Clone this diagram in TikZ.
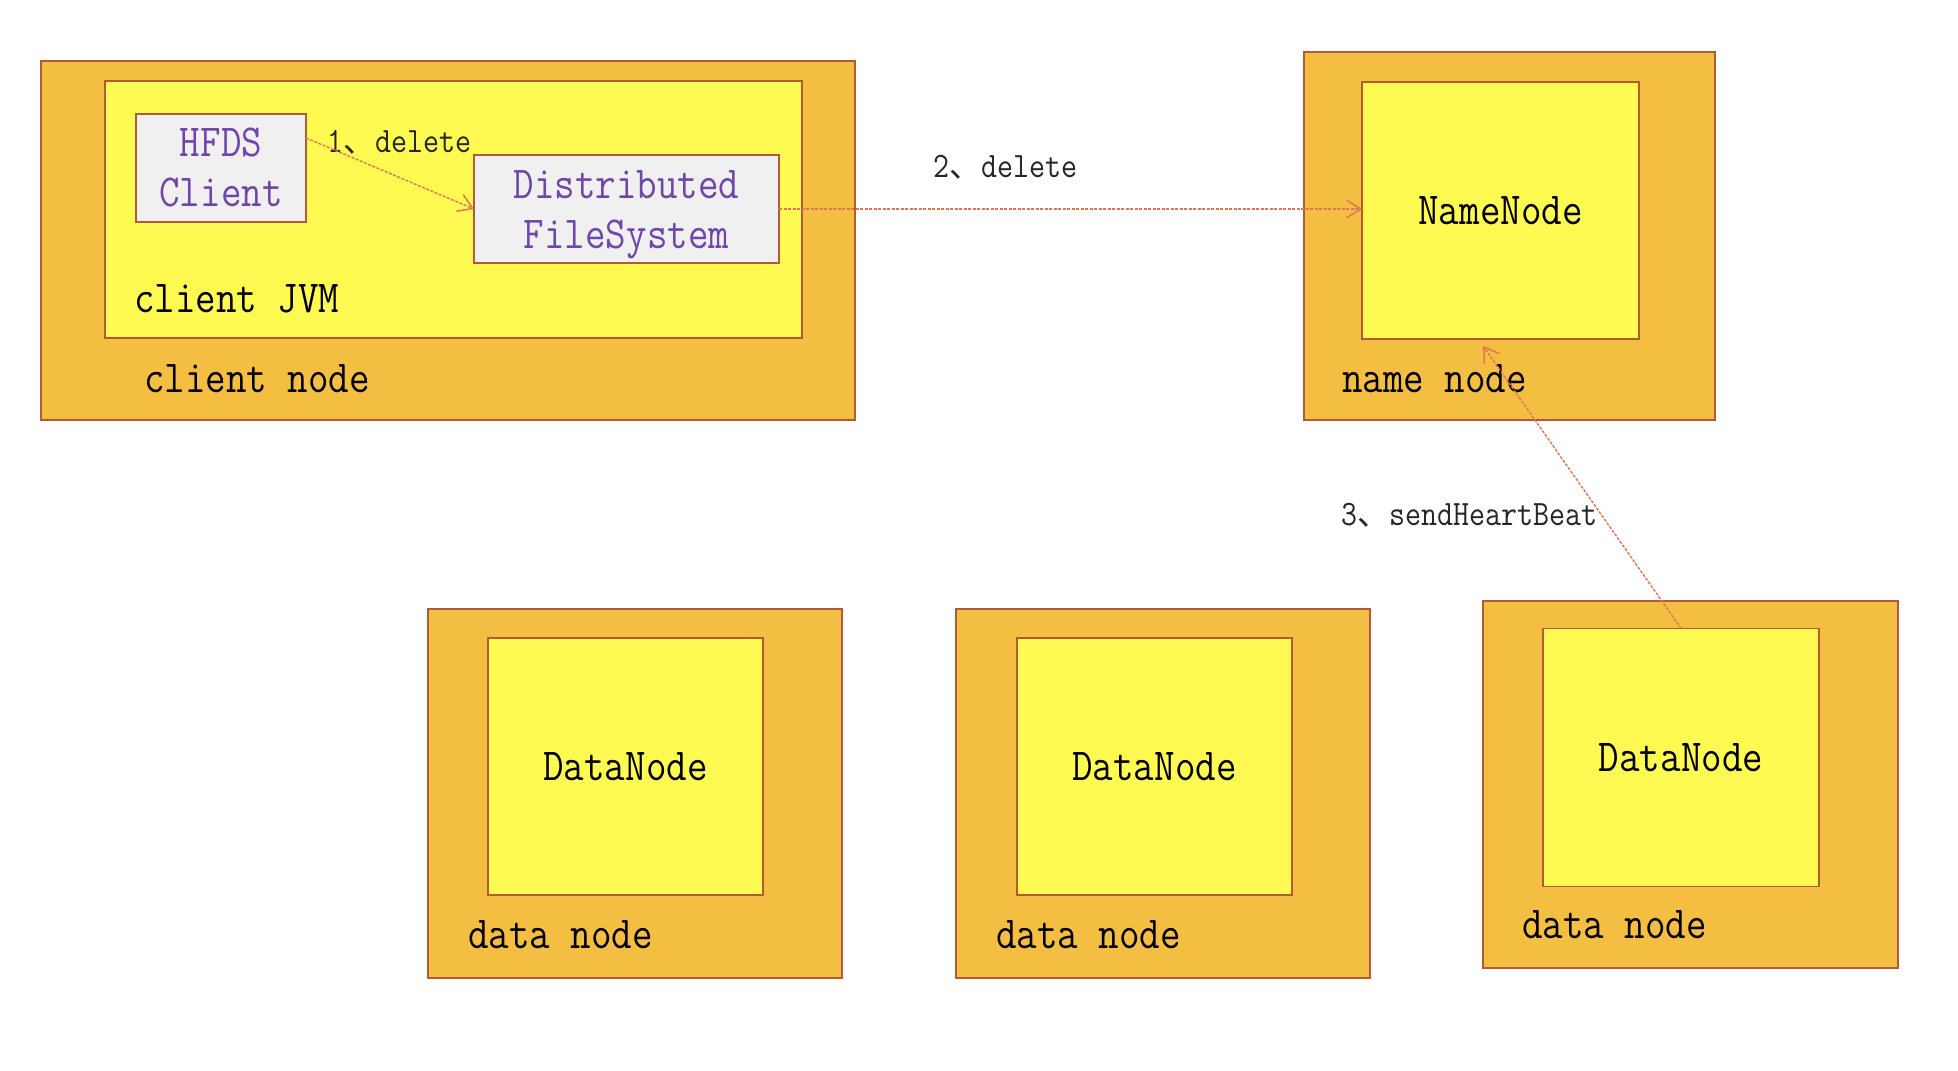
\documentclass[tikz,border=0pt]{standalone}
\usepackage{fontspec}
\setmainfont{Latin Modern Mono}[FakeStretch=0.87]
\newfontfamily\cjk{Noto Sans CJK SC}
\usetikzlibrary{arrows.meta,calc}
\definecolor{outerfill}{RGB}{244,190,66}
\definecolor{innerfill}{RGB}{255,250,82}
\definecolor{edgec}{RGB}{175,92,55}
\definecolor{grayfill}{RGB}{240,240,240}
\definecolor{purp}{RGB}{112,70,170}
\definecolor{arrc}{RGB}{224,118,85}
\newcommand\bigfont{\fontsize{45.8}{50}\selectfont}
\newcommand\smallfont{\fontsize{35.7}{40}\selectfont}
\newcommand\dun{{\cjk\fontsize{32}{32}\selectfont 、}}
\begin{document}
\begin{tikzpicture}[x=1pt,y=-1pt,
  outerbox/.style={draw=edgec, fill=outerfill, line width=1.6pt, inner sep=0pt, outer sep=0pt},
  innerbox/.style={draw=edgec, fill=innerfill, line width=1.6pt, inner sep=0pt, outer sep=0pt, font=\bigfont},
  graybox/.style={draw=edgec, fill=grayfill, line width=1.6pt, inner sep=0pt, outer sep=0pt, font=\bigfont, text=purp, align=center},
  lbl/.style={anchor=base west, inner sep=0pt, font=\bigfont},
  arrlbl/.style={anchor=base west, inner sep=0pt, font=\smallfont, text=black!85},
  arr/.style={draw=arrc, line width=1.4pt, dash pattern=on 3pt off 1.5pt, -{Straight Barb[length=14pt,width=18pt,line width=1.5pt]}}]
\useasboundingbox[fill=white] (0,0) rectangle (1958,1070);
% client node
\node[outerbox, minimum width=814pt, minimum height=359pt] (cn) at (448,240.5) {};
\node[innerbox, minimum width=697pt, minimum height=257pt] (jvm) at (453.5,209.5) {};
\node[graybox, minimum width=170pt, minimum height=108pt] (hfds) at (221,168) {HFDS\\Client};
\node[graybox, minimum width=305pt, minimum height=108pt] (dfs) at (626.5,209) {};
\node[font=\bigfont, text=purp, align=center, inner sep=0pt] (dfstext) at ([yshift=-6pt]dfs.center) {Distributed\\FileSystem};
\node[lbl] (jvmlbl) at (134,312) {client JVM};
\node[lbl] (cnlbl) at (144,392) {client node};
% name node
\node[outerbox, minimum width=411pt, minimum height=368pt] (nnout) at (1509.5,236) {};
\node[innerbox, minimum width=277pt, minimum height=257pt] (nn) at (1500.5,210.5) {NameNode};
\node[lbl] (nnlbl) at (1342,392) {name node};
% data nodes
\node[outerbox, minimum width=414pt, minimum height=369pt] (dn1out) at (635,793.5) {};
\node[innerbox, minimum width=275pt, minimum height=257pt] (dn1) at (625.5,766.5) {DataNode};
\node[lbl] (dn1lbl) at (468,948) {data node};
\node[outerbox, minimum width=414pt, minimum height=369pt] (dn2out) at (1163,793.5) {};
\node[innerbox, minimum width=275pt, minimum height=257pt] (dn2) at (1154.5,766.5) {DataNode};
\node[lbl] (dn2lbl) at (996,948) {data node};
\node[outerbox, minimum width=415pt, minimum height=367pt] (dn3out) at (1690.5,784.3) {};
\node[innerbox, minimum width=276pt, minimum height=258pt] (dn3) at (1681,757.3) {DataNode};
\node[lbl] (dn3lbl) at (1522,938) {data node};
% labels
\node[arrlbl] (l1) at (327,152) {1\dun delete};
\node[arrlbl] (l2) at (933,177) {2\dun delete};
\node[arrlbl] (l3) at (1341,525) {3\dun sendHeartBeat};
% arrows
\coordinate (tip) at (1483,346);
\draw[arr] ([yshift=30pt]hfds.east) -- (dfs.west);
\draw[arr] (dfs.east) -- (dfs.east -| nn.west);
\draw[arr] (dn3.north) -- (tip);
\end{tikzpicture}
\end{document}
